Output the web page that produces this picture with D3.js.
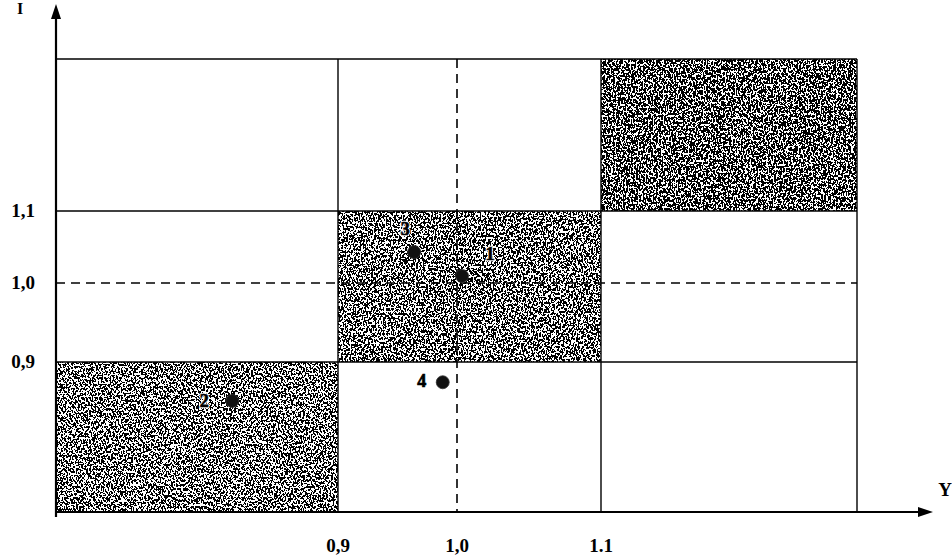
<!DOCTYPE html>
<html>
<head>
<meta charset="utf-8">
<script src="https://cdn.jsdelivr.net/npm/d3@7"></script>
<style>
  html, body { margin: 0; padding: 0; background: #fff; }
  svg { display: block; }
  text { font-family: "Liberation Serif", "Times New Roman", serif; font-weight: bold; fill: #000; }
</style>
</head>
<body>
<svg id="chart" width="952" height="556"></svg>
<script>
// ---- data ----
const xBreaks = [0.7, 0.9, 1.0, 1.1, 1.3];          // grid band boundaries on Y axis (horizontal)
const yBreaks = [0.7, 0.9, 1.0, 1.1, 1.3];          // grid band boundaries on I axis (vertical)
const xTickValues = [0.9, 1.0, 1.1];
const xTickLabels = ["0,9", "1,0", "1.1"];
const yTickValues = [0.9, 1.0, 1.1];
const yTickLabels = ["0,9", "1,0", "1,1"];
const gridX = [0.7, 0.9, 1.1, 1.3];                  // solid vertical grid lines
const gridY = [0.7, 0.9, 1.1, 1.3];                  // solid horizontal grid lines
const refX = 1.0, refY = 1.0;                        // dashed reference lines
const shadedCells = [                                // [x0, x1, y0, y1]
  [0.7, 0.9, 0.7, 0.9],
  [0.9, 1.1, 0.9, 1.1],
  [1.1, 1.3, 1.1, 1.3]
];
const noiseThreshold = [0.503, 0.497, 0.472];
const pointIds = ["1", "2", "3", "4"];
const pointX = [1.0035, 0.825, 0.964, 0.988];
const pointY = [1.0097, 0.848, 1.043, 0.873];
const axisNameX = "Y";
const axisNameY = "I";

// ---- scales ----
const x = d3.scaleLinear().domain(xBreaks).range([56, 338, 457, 601, 857]);
const y = d3.scaleLinear().domain(yBreaks).range([512, 362, 283, 211, 59]);

const svg = d3.select("#chart");
const defs = svg.append("defs");

// noise filters for speckled cells
noiseThreshold.forEach((thr, i) => {
  const f = defs.append("filter")
    .attr("id", "noise" + i)
    .attr("x", 0).attr("y", 0).attr("width", 1).attr("height", 1)
    .attr("color-interpolation-filters", "sRGB");
  f.append("feTurbulence")
    .attr("type", "fractalNoise")
    .attr("baseFrequency", "0.6 0.45")
    .attr("numOctaves", 2)
    .attr("seed", 7 + i * 5)
    .attr("result", "t");
  const k = 4;
  f.append("feColorMatrix")
    .attr("in", "t")
    .attr("type", "matrix")
    .attr("values", `0 0 0 0 0  0 0 0 0 0  0 0 0 0 0  ${k} 0 0 0 ${0.5 - k * thr}`)
    .attr("result", "a");
  const ct = f.append("feComponentTransfer").attr("in", "a");
  ct.append("feFuncA").attr("type", "discrete").attr("tableValues", "0 1");
});

// shaded cells
const cells = svg.append("g");
shadedCells.forEach((c, i) => {
  cells.append("rect")
    .attr("x", x(c[0])).attr("y", y(c[3]))
    .attr("width", x(c[1]) - x(c[0])).attr("height", y(c[2]) - y(c[3]))
    .attr("fill", "#fff");
  cells.append("rect")
    .attr("x", x(c[0])).attr("y", y(c[3]))
    .attr("width", x(c[1]) - x(c[0])).attr("height", y(c[2]) - y(c[3]))
    .attr("fill", "#000")
    .attr("filter", `url(#noise${i})`);
});

// grid lines
const grid = svg.append("g").attr("stroke", "#000").attr("stroke-width", 1.4);
gridX.forEach(v => grid.append("line")
  .attr("x1", x(v)).attr("x2", x(v)).attr("y1", y(1.3)).attr("y2", y(0.7)));
gridY.forEach(v => grid.append("line")
  .attr("x1", x(0.7)).attr("x2", x(1.3)).attr("y1", y(v)).attr("y2", y(v)));

// dashed reference lines
const dash = svg.append("g").attr("stroke", "#000").attr("stroke-width", 1.6)
  .attr("stroke-dasharray", "9,6");
dash.append("line").attr("x1", x(refX)).attr("x2", x(refX)).attr("y1", y(1.3)).attr("y2", y(0.7));
dash.append("line").attr("x1", x(0.7)).attr("x2", x(1.3)).attr("y1", y(refY)).attr("y2", y(refY));

// axes with arrows
const ax = svg.append("g");
ax.append("line").attr("x1", x(0.7)).attr("x2", 922).attr("y1", y(0.7)).attr("y2", y(0.7))
  .attr("stroke", "#000").attr("stroke-width", 2.2);
ax.append("path")
  .attr("d", `M933,${y(0.7)} L918,${y(0.7) - 5} L918,${y(0.7) + 5} Z`).attr("fill", "#000");
ax.append("line").attr("x1", x(0.7)).attr("x2", x(0.7)).attr("y1", 16).attr("y2", y(0.7) + 5)
  .attr("stroke", "#000").attr("stroke-width", 2.2);
ax.append("path")
  .attr("d", `M${x(0.7)},4 L${x(0.7) - 5},19 L${x(0.7) + 5},19 Z`).attr("fill", "#000");

ax.append("text").attr("x", 945).attr("y", 496).attr("text-anchor", "middle")
  .attr("font-size", 19).text(axisNameX);
ax.append("text").attr("x", 20).attr("y", 14).attr("text-anchor", "middle")
  .attr("font-size", 16).text(axisNameY);

// tick labels
const tl = svg.append("g").attr("font-size", 19);
xTickValues.forEach((v, i) => tl.append("text")
  .attr("x", x(v)).attr("y", 552).attr("text-anchor", "middle").text(xTickLabels[i]));
yTickValues.forEach((v, i) => tl.append("text")
  .attr("x", 23).attr("y", y(v) + 6).attr("text-anchor", "middle").text(yTickLabels[i]));

// points
const pts = svg.append("g");
pointIds.forEach((id, i) => {
  pts.append("circle").attr("cx", x(pointX[i])).attr("cy", y(pointY[i])).attr("r", 6.5)
    .attr("fill", "#111").attr("stroke", "#333").attr("stroke-width", 0.8);
});
// point labels (halo text underneath, then solid text)
const lbl = svg.append("g").attr("font-size", 18);
const labelDx = [28, -28, -9, -21];
const labelDy = [-16, 6, -17, 5];
pointIds.forEach((id, i) => {
  const lx = x(pointX[i]) + labelDx[i], ly = y(pointY[i]) + labelDy[i];
  lbl.append("text").attr("x", lx).attr("y", ly).attr("text-anchor", "middle")
    .style("fill", "#fff").attr("stroke", "#fff").attr("stroke-width", 2.5).text(id);
  lbl.append("text").attr("x", lx).attr("y", ly).attr("text-anchor", "middle")
    .style("fill", "#000").attr("stroke", "#000").attr("stroke-width", 0.7).text(id);
});
</script>
</body>
</html>
